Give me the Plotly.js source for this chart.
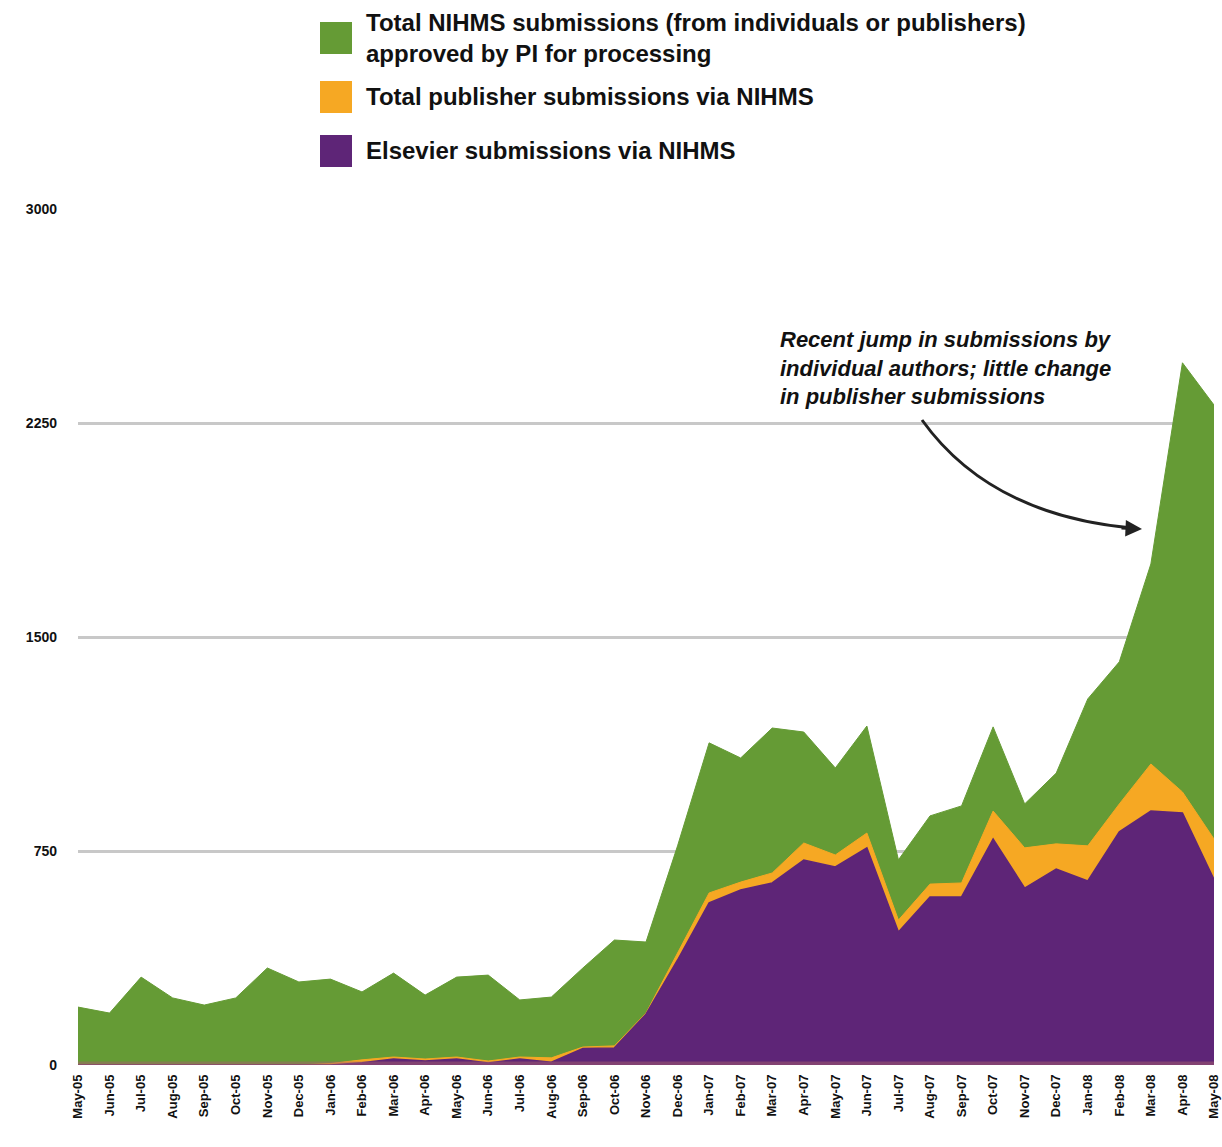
<!DOCTYPE html>
<html>
<head>
<meta charset="utf-8">
<script src="https://cdn.plot.ly/plotly-3.0.1.min.js"></script>
<style>
  html, body { margin: 0; padding: 0; background: #ffffff; }
  #chart { width: 1222px; height: 1147px; }
</style>
</head>
<body>
<div id="chart"></div>
<script>
const months = ["May-05","Jun-05","Jul-05","Aug-05","Sep-05","Oct-05","Nov-05","Dec-05",
  "Jan-06","Feb-06","Mar-06","Apr-06","May-06","Jun-06","Jul-06","Aug-06","Sep-06","Oct-06","Nov-06","Dec-06",
  "Jan-07","Feb-07","Mar-07","Apr-07","May-07","Jun-07","Jul-07","Aug-07","Sep-07","Oct-07","Nov-07","Dec-07",
  "Jan-08","Feb-08","Mar-08","Apr-08","May-08"];

const totalNIHMS = [203,182,308,235,210,235,340,291,
  301,256,322,245,308,315,228,238,340,438,431,768,
  1129,1076,1181,1167,1041,1188,719,873,908,1185,915,1023,
  1283,1413,1756,2461,2313];

const publisherTotal = [0,0,0,0,0,0,0,0,
  5,18,28,21,28,14,28,25,63,67,182,393,
  603,641,673,778,736,813,508,634,638,890,761,775,
  768,915,1055,957,792];

const elsevier = [0,0,0,0,0,0,0,0,
  0,8,21,14,21,7,21,10,58,60,178,368,
  568,613,638,718,694,761,466,589,589,792,620,687,
  645,817,890,883,650];

const yTicks = [0, 750, 1500, 2250, 3000];
const yTickText = ["0", "750", "1500", "2250", "3000"];

const seriesNames = [
  "Total NIHMS submissions (from individuals or publishers)<br>approved by PI for processing",
  "Total publisher submissions via NIHMS",
  "Elsevier submissions via NIHMS"
];
const colors = ["#659b35", "#f6a823", "#5e2577"];

const FONT = "'Liberation Sans Narrow', 'Liberation Sans', Arial, sans-serif";

const traces = [totalNIHMS, publisherTotal, elsevier].map((vals, k) => ({
  type: "scatter",
  mode: "lines",
  x: months,
  y: vals,
  name: seriesNames[k].replace("<br>", " "),
  fill: "tozeroy",
  fillcolor: colors[k],
  line: { color: colors[k], width: k === 2 ? 1.5 : 1 },
  showlegend: false,
  hoverinfo: "x+y+name"
}));

const W = 1222, H = 1147;
const mL = 78, mR = 8, mT = 209, mB = 82;
const pw = W - mL - mR, ph = H - mT - mB;
const px = x => (x - mL) / pw;
const py = y => (H - mB - y) / ph;

const legendY = [38, 97, 151];
const shapes = [];
const annotations = [];
seriesNames.forEach((nm, k) => {
  shapes.push({
    type: "rect", xref: "paper", yref: "paper",
    x0: px(320), x1: px(352), y0: py(legendY[k] + 16), y1: py(legendY[k] - 16),
    fillcolor: colors[k], line: { width: 0 }, layer: "above"
  });
  annotations.push({
    xref: "paper", yref: "paper", x: px(364), y: py(legendY[k]),
    xanchor: "left", yanchor: "middle", align: "left",
    text: "<b>" + nm + "</b>", showarrow: false,
    font: { family: FONT, size: 24, color: "#111111" }
  });
});

// base band
shapes.push({
  type: "rect", xref: "paper", yref: "y",
  x0: 0, x1: 1, y0: 0, y1: 12,
  fillcolor: "rgba(165,95,110,0.5)", line: { width: 0 }, layer: "above"
});

// annotation text
annotations.push({
  xref: "paper", yref: "paper", x: px(778), y: py(368),
  xanchor: "left", yanchor: "middle", align: "left",
  text: "<b><i>Recent jump in submissions by<br>individual authors; little change<br>in publisher submissions</i></b>",
  showarrow: false,
  font: { family: FONT, size: 22, color: "#111111" }
});

// curved arrow
const p0 = [922, 420], c = [990, 515], p1 = [1132, 528];
shapes.push({
  type: "path", xref: "paper", yref: "paper",
  path: `M ${px(p0[0])},${py(p0[1])} Q ${px(c[0])},${py(c[1])} ${px(p1[0])},${py(p1[1])}`,
  line: { color: "#222222", width: 3 }, layer: "above"
});
annotations.push({
  xref: "paper", yref: "paper", x: px(1142), y: py(529),
  ax: -22, ay: -1, text: "", showarrow: true,
  arrowhead: 2, arrowsize: 1.1, arrowwidth: 3, arrowcolor: "#222222"
});

const layout = {
  width: W, height: H,
  margin: { l: mL, r: mR, t: mT, b: mB },
  paper_bgcolor: "#ffffff",
  plot_bgcolor: "#ffffff",
  showlegend: false,
  font: { family: FONT, color: "#111111" },
  xaxis: {
    type: "category",
    range: [0, months.length - 1],
    tickangle: -90,
    tickfont: { family: FONT, size: 13, color: "#111111", weight: "bold" },
    showgrid: false,
    zeroline: false,
    showline: false,
    ticks: "",
    ticklabelstandoff: 6,
    fixedrange: true
  },
  yaxis: {
    range: [0, 3000],
    tickvals: yTicks,
    ticktext: yTickText,
    tickfont: { family: FONT, size: 14, color: "#111111", weight: "bold" },
    showgrid: true,
    gridcolor: "#c8c8c8",
    gridwidth: 3,
    zeroline: false,
    showline: false,
    ticks: "",
    ticklabelstandoff: 20,
    fixedrange: true
  },
  shapes: shapes,
  annotations: annotations
};

Plotly.newPlot("chart", traces, layout, { displayModeBar: false, staticPlot: true });
</script>
</body>
</html>
